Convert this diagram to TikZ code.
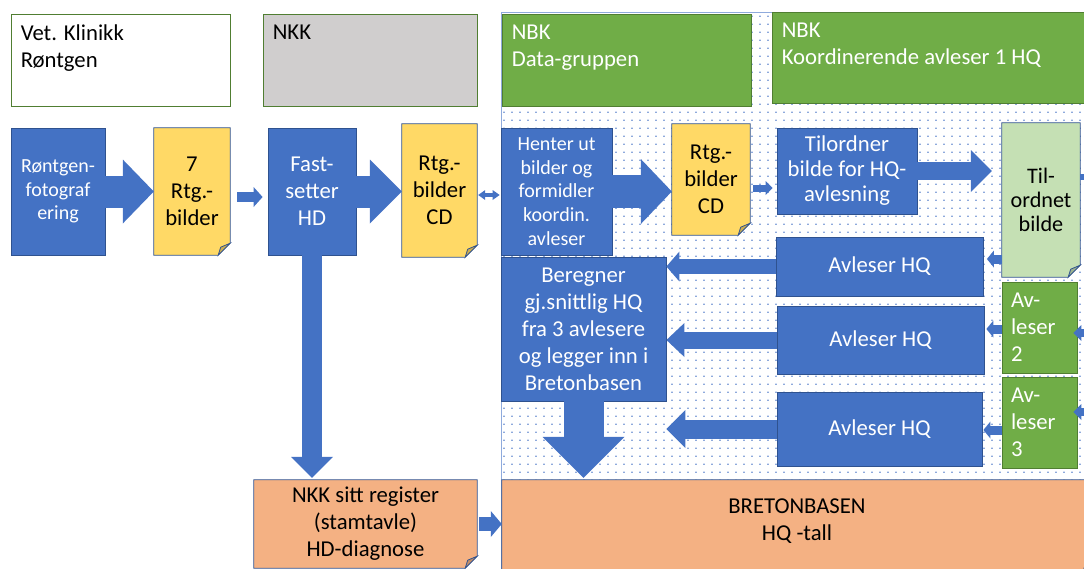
\documentclass[tikz,border=0pt]{standalone}
\usepackage{fontspec}
\setmainfont{Carlito}
\usetikzlibrary{arrows.meta,calc,patterns.meta}

\definecolor{cblue}{HTML}{4472C4}
\definecolor{cbline}{HTML}{2F528F}
\definecolor{cyel}{HTML}{FFD966}
\definecolor{cyelf}{HTML}{CCAE52}
\definecolor{clgrn}{HTML}{C5E0B4}
\definecolor{clgrnf}{HTML}{9DB390}
\definecolor{cora}{HTML}{F4B183}
\definecolor{coraf}{HTML}{C38E69}
\definecolor{cgrn}{HTML}{70AD47}
\definecolor{cgrnl}{HTML}{507E32}
\definecolor{cgray}{HTML}{D0CECE}
\definecolor{cdot}{HTML}{8FAADC}

\pgfdeclarelayer{back}
\pgfsetlayers{back,main}

\tikzdeclarepattern{name=griddots,type=uncolored,
  bounding box={(0pt,0pt) and (7.5pt,8.3pt)},
  tile size={(7.5pt,8.3pt)},
  code={\pgfpathrectangle{\pgfpointorigin}{\pgfpoint{2pt}{1.4pt}}\pgfusepath{fill}}}

\newcommand\fsa{\fontsize{22.7}{27}\selectfont}
\newcommand\fsb{\fontsize{20}{23.6}\selectfont}
\newcommand\fsc{\fontsize{22.7}{25}\selectfont}
\newcommand\fsd{\fontsize{22.2}{24}\selectfont}

\begin{document}
\begin{tikzpicture}
  [x=1pt,y=-1pt,
   every node/.style={inner sep=0pt,align=center,font=\fsa},
   hdr/.style={draw=cgrnl,line width=0.8pt},
   hdrtxt/.style={anchor=north west,inner xsep=10pt,inner ysep=11pt,align=left},
   proc/.style={fill=cblue,draw=cbline,line width=0.8pt,text=white},
   grn/.style={fill=cgrn,draw=cgrnl,line width=0.8pt,text=white,align=left,text width=57pt,inner xsep=9pt},
   doc/.style={text=black},
   farrow/.style args={#1/#2/#3}{cblue,line width=#1,-{Triangle[width=#2,length=#3,line width=0pt]}},
   darrow/.style args={#1/#2/#3}{cblue,line width=#1,{Triangle[width=#2,length=#3,line width=0pt]}-{Triangle[width=#2,length=#3,line width=0pt]}}]
  \useasboundingbox (0,0) rectangle (1084,568);

  % header boxes
  \node[hdr,fill=white,minimum width=219pt,minimum height=92pt,
    label={[hdrtxt]north west:Vet. Klinikk\\Røntgen}] (nvet) at (120.5,60) {};
  \node[hdr,fill=cgray,minimum width=214pt,minimum height=92pt,
    label={[hdrtxt]north west:NKK}] (nnkk) at (370,60) {};
  \node[hdr,fill=cgrn,minimum width=249pt,minimum height=92pt,
    label={[hdrtxt,text=white]north west:NBK\\Data-gruppen}] (nnbkd) at (626.5,60) {};
  \node[hdr,fill=cgrn,minimum width=330pt,minimum height=91pt,
    label={[hdrtxt,text=white]north west:NBK\\Koordinerende avleser 1 HQ}] (nnbkk) at (937,57.5) {};

  % process row
  \node[proc,font=\fsb,minimum width=94pt,minimum height=127pt] (nront) at (58,191.5) {Røntgen-\\fotograf\\ering};
  \node[doc,minimum width=76pt,minimum height=127pt] (nrtga) at (192,191.5) {7\\Rtg.-\\bilder};
  \node[proc,minimum width=88pt,minimum height=127pt] (nfast) at (312,191.5) {Fast-\\setter\\HD};
  \node[doc,minimum width=75pt,minimum height=133pt] (nrtgb) at (439.5,190.5) {Rtg.-\\bilder\\CD};
  \node[proc,font=\fsb,minimum width=111pt,minimum height=127pt] (nhent) at (556.5,191.5) {Henter ut\\bilder og\\formidler\\koordin.\\avleser};
  \node[doc,minimum width=78pt,minimum height=111pt] (nrtgc) at (711,179.5) {Rtg.-\\bilder\\CD};
  \node[proc,font=\fsc,minimum width=140pt,minimum height=86pt] (ntilo) at (847,171) {Tilordner\\bilde for HQ-\\avlesning};
  \node[doc,font=\fsd,minimum width=78pt,minimum height=154pt] (ntild) at (1041,200) {Til-\\ordnet\\bilde};

  % readers
  \node[proc,minimum width=165pt,minimum height=144pt] (nbereg) at (583.5,329) {Beregner\\gj.snittlig HQ\\fra 3 avlesere\\og legger inn i\\Bretonbasen};
  \node[proc,minimum width=207pt,minimum height=59pt] (navla) at (879.5,266.5) {Avleser HQ};
  \node[proc,minimum width=207pt,minimum height=68pt] (navlb) at (880.5,340) {Avleser HQ};
  \node[proc,minimum width=205pt,minimum height=74pt] (navlc) at (879.5,429) {Avleser HQ};
  \node[grn,minimum height=91pt] (nalb) at (1039.5,327.5) {Av-\\leser\\2};
  \node[grn,minimum height=91pt] (nalc) at (1039.5,422.5) {Av-\\leser\\3};

  % registers
  \node[doc,minimum width=223pt,minimum height=88pt] (nreg) at (365.5,524) {NKK sitt register\\(stamtavle)\\HD-diagnose};
  \node[doc,minimum width=592pt,minimum height=94pt] (nbret) at (798,527) {};
  \node (nbrett) at (797,521) {BRETONBASEN\\HQ -tall};

  \coordinate (cinb) at (1110,333);
  \coordinate (cinc) at (1110,412);
  \coordinate (cout) at (1120,177);

  % big arrows
  \draw[farrow=32pt/64pt/31pt] (nront) -- (nrtga);
  \draw[farrow=32pt/64pt/32pt] (nfast.east) -- (nfast.east -| nrtgb.west);
  \draw[farrow=32.5pt/65pt/31pt] (nhent.east) -- (nhent.east -| nrtgc.west);
  \draw[farrow=18.5pt/42pt/21pt,shorten >=10pt] (ntilo.east) -- (ntilo.east -| ntild.west);
  \draw[farrow=15pt/30pt/13pt] (navla.west) -- (navla.west -| nbereg.east);
  \draw[farrow=17pt/34pt/18pt] (navlb.west) -- (navlb.west -| nbereg.east);
  \draw[farrow=19pt/38pt/19pt] (navlc.west) -- (navlc.west -| nbereg.east);
  \draw[farrow=20pt/42pt/21pt,shorten >=2pt] (nfast.south) -- (nfast.south |- nreg.north);
  \draw[farrow=40pt/82pt/41pt,shorten >=2pt] (nbereg.south) -- (nbereg.south |- nbret.north);

  % small arrows
  \draw[farrow=10pt/20pt/9pt,shorten <=7pt,shorten >=5pt] ($(nrtga.east)+(0,5.5)$) -- ($(nfast.west)+(0,5.5)$);
  \draw[darrow=4pt/10pt/7pt,shorten <=1pt,shorten >=1pt] ($(nrtgb.east)+(0,4.5)$) -- ($(nhent.west)+(0,3.5)$);
  \draw[farrow=14pt/26pt/11pt,shorten <=2pt] (nreg.east) -- (nreg.east -| nbret.west);
  \draw[farrow=7pt/14pt/7pt,shorten <=3pt,shorten >=4pt] ($(nrtgc.east)+(0,8.5)$) -- ($(ntilo.west)+(0,17)$);
  \draw[farrow=9pt/17pt/7pt,shorten >=3.5pt] ($(ntild.west)+(0,59)$) -- ($(navla.east)+(0,-7.5)$);
  \draw[farrow=9pt/17pt/7pt,shorten >=2pt] ($(nalb.west)+(0,1.5)$) -- ($(navlb.east)+(0,-11)$);
  \draw[farrow=9pt/17pt/7pt,shorten >=1pt] ($(nalc.west)+(0,7.5)$) -- ($(navlc.east)+(0,1)$);
  \draw[farrow=8pt/16pt/8pt,shorten >=-4pt] (cinb) -- (cinb -| nalb.east);
  \draw[farrow=8pt/16pt/8pt,shorten >=-4pt] (cinc) -- (cinc -| nalc.east);
  \draw[farrow=6pt/14pt/8pt] ($(ntild.east)+(0,-23)$) -- (cout);

  \begin{pgfonlayer}{back}
    \fill[pattern=griddots,pattern color=cdot] (501,12) rectangle (1100,600);
    \draw[cdot,line width=0.8pt] (1100,12) -- (501,12) -- (501,600);
    \foreach \n/\fa/\fb in {nrtga/cyel/cyelf,nrtgb/cyel/cyelf,nrtgc/cyel/cyelf,ntild/clgrn/clgrnf,nreg/cora/coraf,nbret/cora/coraf}{
      \filldraw[fill=\fa,draw=cbline,line width=0.8pt] (\n.north west) -- (\n.north east) -- ($(\n.south east)+(0,-12)$)
        -- ($(\n.south east)+(-12,0)$) -- (\n.south west) -- cycle;
      \filldraw[fill=\fb,draw=cbline,line width=0.8pt] ($(\n.south east)+(0,-12)$) -- ($(\n.south east)+(-12,0)$)
        -- ($(\n.south east)+(-9.5,-8)$) -- cycle;
    }
  \end{pgfonlayer}
\end{tikzpicture}
\end{document}
